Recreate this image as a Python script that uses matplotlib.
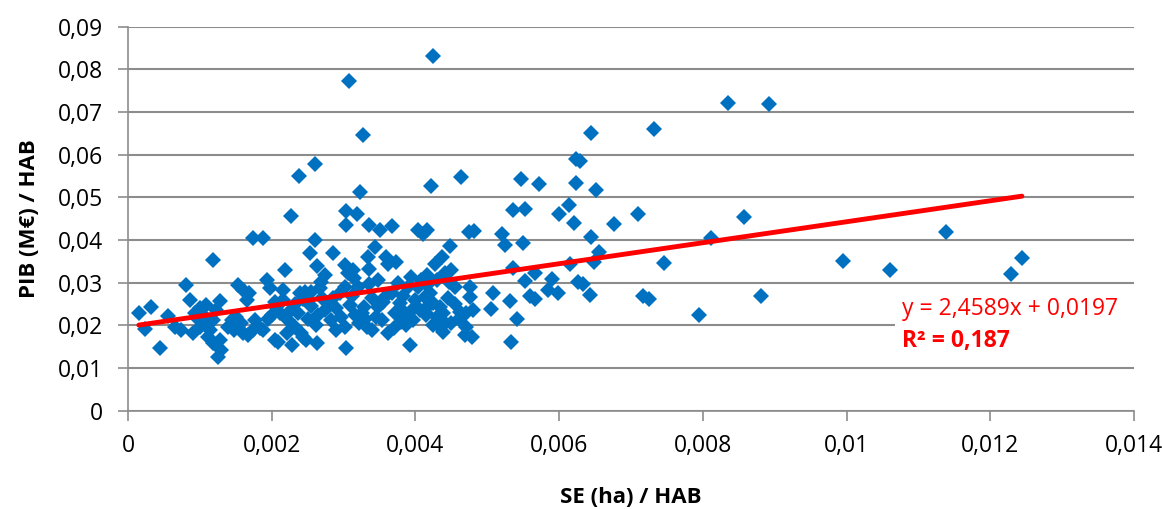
import matplotlib
matplotlib.use("Agg")
import matplotlib.pyplot as plt
from matplotlib.ticker import FuncFormatter, MultipleLocator
from matplotlib.patches import Rectangle
import numpy as np

# SE (ha) / HAB  and  PIB (M€) / HAB
se = [0.00015, 0.00032, 0.00024, 0.00044, 0.00056, 0.00065, 0.00074, 0.00081, 0.00086, 0.00093,
      0.00100, 0.00109, 0.00090, 0.00100, 0.00107, 0.00114, 0.00111, 0.00118, 0.00128, 0.00125,
      0.00130, 0.00118, 0.00128, 0.00118, 0.00144, 0.00139, 0.00148, 0.00153, 0.00160, 0.00169,
      0.00165, 0.00174, 0.00188, 0.00193, 0.00197, 0.00153, 0.00160, 0.00176, 0.00183, 0.00188,
      0.00174, 0.00204, 0.00204, 0.00167, 0.00104, 0.00097, 0.00122, 0.00150, 0.00157, 0.00195,
      0.00200, 0.00206,
      0.00218, 0.00227, 0.00238, 0.00260, 0.00260, 0.00253, 0.00263, 0.00216, 0.00212, 0.00209,
      0.00228, 0.00221, 0.00244, 0.00263, 0.00240, 0.00285, 0.00274, 0.00269, 0.00267, 0.00255,
      0.00246, 0.00244, 0.00216, 0.00227, 0.00237, 0.00223, 0.00232, 0.00241, 0.00248, 0.00262,
      0.00274, 0.00278, 0.00283, 0.00290, 0.00297, 0.00295, 0.00255, 0.00265, 0.00250, 0.00285,
      0.00290, 0.00232, 0.00270,
      0.00307, 0.00327, 0.00323, 0.00303, 0.00319, 0.00304, 0.00335, 0.00351, 0.00368, 0.00343,
      0.00334, 0.00359, 0.00302, 0.00306, 0.00313, 0.00336, 0.00373, 0.00362, 0.00348, 0.00302,
      0.00304, 0.00309, 0.00316, 0.00322, 0.00332, 0.00339, 0.00329, 0.00336, 0.00302, 0.00348,
      0.00357, 0.00367, 0.00353, 0.00362, 0.00371, 0.00378, 0.00385, 0.00392, 0.00394, 0.00390,
      0.00380, 0.00387, 0.00312, 0.00320, 0.00325, 0.00345, 0.00355, 0.00375, 0.00370, 0.00340,
      0.00315, 0.00330, 0.00383, 0.00398,
      0.00425, 0.00422, 0.00464, 0.00404, 0.00416, 0.00411, 0.00474, 0.00481, 0.00448, 0.00437,
      0.00427, 0.00450, 0.00441, 0.00416, 0.00430, 0.00446, 0.00408, 0.00404, 0.00399, 0.00413,
      0.00397, 0.00406, 0.00415, 0.00476, 0.00476, 0.00416, 0.00425, 0.00434, 0.00416, 0.00414,
      0.00430, 0.00439, 0.00434, 0.00441, 0.00450, 0.00462, 0.00471, 0.00480, 0.00471, 0.00469,
      0.00478, 0.00420, 0.00445, 0.00455, 0.00438, 0.00425, 0.00455, 0.00460,
      0.00521, 0.00524, 0.00549, 0.00536, 0.00553, 0.00547, 0.00572, 0.00600, 0.00536, 0.00566,
      0.00552, 0.00590, 0.00508, 0.00531, 0.00505, 0.00542, 0.00533, 0.00559, 0.00566, 0.00585,
      0.00599,
      0.00644, 0.00732, 0.00624, 0.00629, 0.00624, 0.00651, 0.00614, 0.00621, 0.00676, 0.00710,
      0.00644, 0.00655, 0.00648, 0.00615, 0.00746, 0.00626, 0.00633, 0.00643, 0.00717, 0.00725,
      0.00794, 0.00835, 0.00892, 0.00857, 0.00811, 0.01138, 0.00995, 0.01061, 0.01244, 0.01229,
      0.00881]
pib = [0.0228, 0.0244, 0.0191, 0.0148, 0.0222, 0.0197, 0.0189, 0.0294, 0.0259, 0.0229,
       0.0240, 0.0248, 0.0182, 0.0197, 0.0208, 0.0189, 0.0173, 0.0158, 0.0166, 0.0126,
       0.0142, 0.0353, 0.0258, 0.0212, 0.0212, 0.0197, 0.0189, 0.0294, 0.0283, 0.0276,
       0.0259, 0.0404, 0.0404, 0.0306, 0.0287, 0.0197, 0.0182, 0.0212, 0.0194, 0.0189,
       0.0189, 0.0255, 0.0166, 0.0177, 0.0225, 0.0215, 0.0236, 0.0220, 0.0205, 0.0215,
       0.0225, 0.0244,
       0.0329, 0.0456, 0.0550, 0.0578, 0.0401, 0.0370, 0.0339, 0.0283, 0.0228, 0.0162,
       0.0154, 0.0181, 0.0173, 0.0158, 0.0275, 0.0370, 0.0318, 0.0302, 0.0287, 0.0279,
       0.0279, 0.0263, 0.0259, 0.0236, 0.0228, 0.0212, 0.0197, 0.0181, 0.0166, 0.0201,
       0.0236, 0.0252, 0.0212, 0.0189, 0.0220, 0.0275, 0.0245, 0.0225, 0.0215, 0.0265,
       0.0240, 0.0250, 0.0265,
       0.0772, 0.0647, 0.0513, 0.0468, 0.0460, 0.0435, 0.0435, 0.0423, 0.0433, 0.0383,
       0.0361, 0.0361, 0.0341, 0.0322, 0.0329, 0.0333, 0.0349, 0.0345, 0.0306, 0.0197,
       0.0146, 0.0248, 0.0224, 0.0205, 0.0197, 0.0189, 0.0244, 0.0298, 0.0290, 0.0244,
       0.0267, 0.0275, 0.0212, 0.0181, 0.0228, 0.0252, 0.0228, 0.0154, 0.0314, 0.0290,
       0.0208, 0.0201, 0.0270, 0.0290, 0.0230, 0.0220, 0.0255, 0.0300, 0.0195, 0.0265,
       0.0310, 0.0215, 0.0270, 0.0240,
       0.0831, 0.0526, 0.0547, 0.0423, 0.0423, 0.0415, 0.0419, 0.0422, 0.0386, 0.0361,
       0.0343, 0.0329, 0.0322, 0.0318, 0.0306, 0.0302, 0.0306, 0.0290, 0.0259, 0.0267,
       0.0212, 0.0236, 0.0228, 0.0289, 0.0267, 0.0294, 0.0252, 0.0244, 0.0244, 0.0224,
       0.0220, 0.0228, 0.0197, 0.0205, 0.0205, 0.0232, 0.0228, 0.0236, 0.0197, 0.0177,
       0.0173, 0.0275, 0.0265, 0.0250, 0.0185, 0.0200, 0.0290, 0.0215,
       0.0415, 0.0389, 0.0394, 0.0470, 0.0472, 0.0543, 0.0531, 0.0461, 0.0335, 0.0323,
       0.0304, 0.0308, 0.0277, 0.0257, 0.0238, 0.0215, 0.0162, 0.0269, 0.0263, 0.0283,
       0.0275,
       0.0650, 0.0661, 0.0591, 0.0586, 0.0534, 0.0517, 0.0483, 0.0440, 0.0437, 0.0460,
       0.0407, 0.0372, 0.0349, 0.0345, 0.0347, 0.0302, 0.0297, 0.0271, 0.0269, 0.0261,
       0.0224, 0.0721, 0.0718, 0.0454, 0.0405, 0.0419, 0.0351, 0.0330, 0.0357, 0.0320,
       0.0268]

# linear trend as printed on the chart
slope = 2.4589
intercept = 0.0197
r2 = 0.187

plt.rcParams['font.family'] = ['Open Sans', 'DejaVu Sans']

fig = plt.figure(figsize=(11.62, 5.09), dpi=100)
ax = fig.add_axes([0.1102, 0.1931, 0.8657, 0.7544])

ax.plot(se, pib, linestyle='none', marker='D', markersize=8,
        color='#0070C0', markeredgewidth=0, zorder=3)

xs = np.array([min(se), max(se)])
ax.plot(xs, slope * xs + intercept, color='#FF0000', linewidth=3.5,
        solid_capstyle='round', zorder=4)

ax.set_xlim(0, 0.014)
ax.set_ylim(0, 0.09)
ax.xaxis.set_major_locator(MultipleLocator(0.002))
ax.yaxis.set_major_locator(MultipleLocator(0.01))


def comma(v, pos):
    s = ('%.3f' % v).rstrip('0').rstrip('.')
    return s.replace('.', ',')


ax.xaxis.set_major_formatter(FuncFormatter(comma))
ax.yaxis.set_major_formatter(FuncFormatter(comma))

ax.grid(axis='y', color='#8C8C8C', linewidth=1.5, zorder=0)
ax.set_axisbelow(True)
for side in ['top', 'right']:
    ax.spines[side].set_visible(False)
for side in ['left', 'bottom']:
    ax.spines[side].set_color('#8C8C8C')
    ax.spines[side].set_linewidth(1.2)
ax.tick_params(axis='both', colors='#8C8C8C', labelcolor='black',
               labelsize=16.5, length=7, width=1.2)
ax.tick_params(axis='x', pad=10)
ax.tick_params(axis='y', pad=11)

ax.set_xlabel('SE (ha) / HAB', fontsize=16, fontweight='bold', labelpad=21)
ax.set_ylabel('PIB (M€) / HAB', fontsize=16, fontweight='bold', labelpad=13)

# white area behind the trend label (hides the grid line there)
ax.add_patch(Rectangle((0.01068, 0.0125), 0.0034, 0.0145, facecolor='white',
                       edgecolor='none', zorder=2))
eq = 'y = %sx + %s' % (str(slope).replace('.', ','), str(intercept).replace('.', ','))
ax.text(0.01077, 0.0238, eq, color='#FF0000', fontsize=16.5, va='center', ha='left', zorder=5)
ax.text(0.01077, 0.0163, 'R² = %s' % str(r2).replace('.', ','), color='#FF0000',
        fontsize=16.5, fontweight='bold', va='center', ha='left', zorder=6)

fig.savefig('out.png', dpi=100)
